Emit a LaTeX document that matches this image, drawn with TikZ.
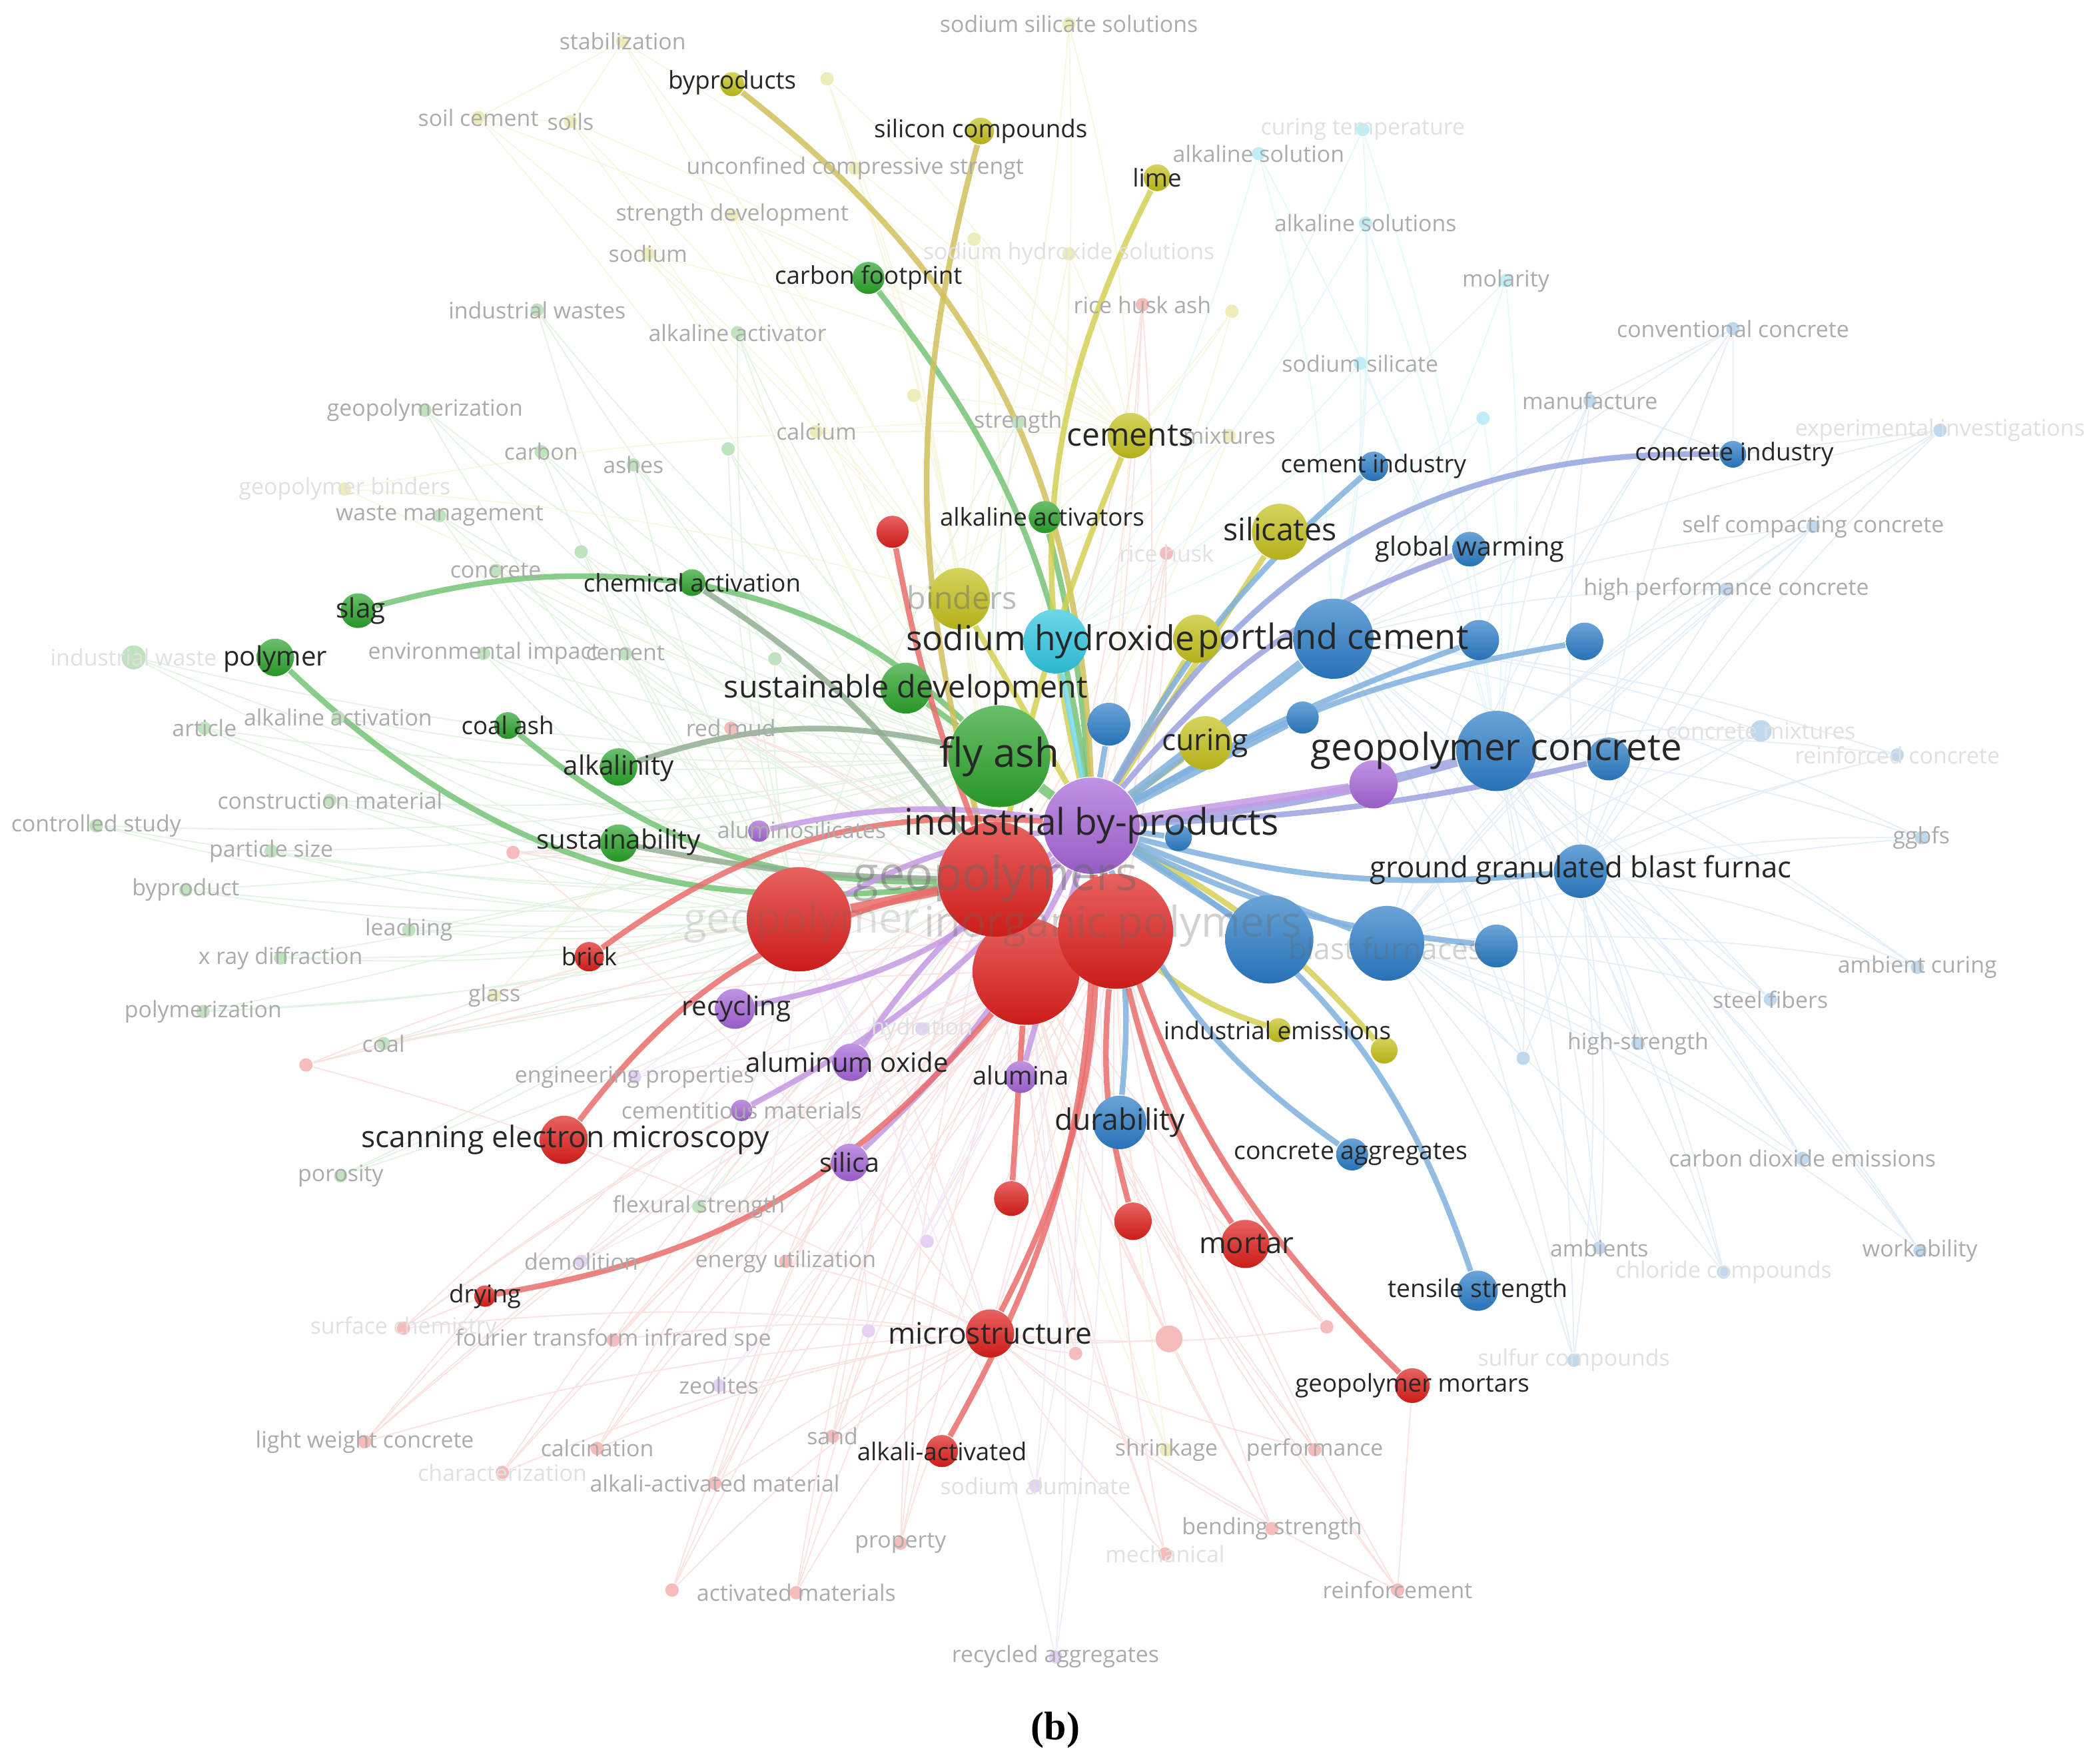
\documentclass[tikz,border=0pt]{standalone}
\usepackage{fontspec}
\setmainfont{Open Sans}
\newfontfamily\capfont{Liberation Serif}
\usetikzlibrary{backgrounds}
\newcommand\kwfs[1]{\fontsize{#1}{#1}\selectfont}
\definecolor{kwred}{HTML}{DD1F1B}
\definecolor{kwgreen}{HTML}{2AA32A}
\definecolor{kwblue}{HTML}{2A7CC6}
\definecolor{kwyellow}{HTML}{C3C01A}
\definecolor{kwpurple}{HTML}{A464D6}
\definecolor{kwcyan}{HTML}{2FC6E0}
\colorlet{kwtan}{kwyellow!65!brown!75!white}

\begin{document}
\begin{tikzpicture}[
        x=0.01cm, y=-0.01cm,
        kw/.style={circle, inner sep=0pt, top color=#1!70!white, bottom color=#1!92!black},
        rad/.style={minimum size=#1*0.02cm},
        fdot/.style={circle, inner sep=0pt, minimum size=0.1cm, fill=#1!30!white},
        lbl/.style={text=black!85, inner sep=0pt, font=\kwfs{#1}},
        lbl/.default=5.2,
        faint/.style={text=black!33, inner sep=0pt, font=\kwfs{4.8}},
        fainter/.style={text=black!12, inner sep=0pt, font=\kwfs{4.8}},
        ghost/.style={text=black!60, text opacity=#1, inner sep=0pt},
        link/.style={line width=1.2pt, draw=#1, opacity=0.85},
        web/.style={line width=0.25pt, draw=#1!13!white}
    ]
    \useasboundingbox (0,0) rectangle (1568,1320);

    % faint keywords
    \node[fdot=kwyellow, label={[faint]center:stabilization}] (stabil) at (466,31) {};
    \node[fdot=kwyellow, label={[faint]center:sodium silicate solutions}] (sss) at (800,18) {};
    \node[fdot=kwyellow] (fy1) at (619,59) {};
    \node[fdot=kwyellow, label={[faint]center:soil cement}] (soilcem) at (358,88) {};
    \node[fdot=kwyellow, label={[faint]center:soils}] (soils) at (427,91) {};
    \node[fdot=kwyellow, label={[faint]center:unconfined compressive strengt}] (ucs) at (640,126) {};
    \node[fdot=kwyellow, label={[faint]center:strength development}] (strdev) at (548,161) {};
    \node[fdot=kwyellow, label={[faint]center:sodium}] (sodium) at (485,190) {};
    \node[fdot=kwyellow, label={[fainter]center:sodium hydroxide solutions}] (shs) at (800,190) {};
    \node[fdot=kwyellow] (fy2) at (729,179) {};
    \node[fdot=kwyellow] (fy3) at (922,233) {};
    \node[fdot=kwyellow] (fy4) at (684,296) {};
    \node[fdot=kwyellow, label={[faint]center:calcium}] (calcium) at (611,323) {};
    \node[fdot=kwyellow, label={[faint]center:mixtures}] (mixtures) at (920,326) {};
    \node[fdot=kwyellow, label={[fainter]center:geopolymer binders}] (gpbind) at (258,366) {};
    \node[fdot=kwyellow, label={[faint]center:glass}] (glass) at (370,745) {};
    \node[fdot=kwyellow, label={[faint]center:shrinkage}] (shrink) at (873,1085) {};

    \node[fdot=kwgreen, label={[faint]center:industrial wastes}] (indwastes) at (402,232) {};
    \node[fdot=kwgreen, label={[faint]center:alkaline activator}] (alkactor) at (552,249) {};
    \node[fdot=kwgreen, label={[faint]center:geopolymerization}] (gpz) at (318,307) {};
    \node[fdot=kwgreen, label={[faint]center:carbon}] (carbon) at (405,338) {};
    \node[fdot=kwgreen, label={[faint]center:ashes}] (ashes) at (474,348) {};
    \node[fdot=kwgreen] (fg1) at (545,336) {};
    \node[fdot=kwgreen, label={[faint]center:strength}] (strength) at (762,316) {};
    \node[fdot=kwgreen, label={[faint]center:waste management}] (wasteman) at (329,386) {};
    \node[fdot=kwgreen, label={[faint]center:concrete}] (concrete) at (371,427) {};
    \node[fdot=kwgreen] (fg2) at (435,413) {};
    \node[fdot=kwgreen, rad=9, label={[fainter]center:industrial waste}] (indwaste) at (100,492) {};
    \node[fdot=kwgreen, label={[faint]center:environmental impact}] (envimp) at (362,489) {};
    \node[fdot=kwgreen, label={[faint]center:cement}] (cement) at (468,489) {};
    \node[fdot=kwgreen] (fg3) at (580,493) {};
    \node[fdot=kwgreen, label={[faint]center:article}] (article) at (153,545) {};
    \node[fdot=kwgreen, label={[faint]center:alkaline activation}] (alkactn) at (253,537) {};
    \node[fdot=kwgreen, label={[faint]center:construction material}] (conmat) at (247,599) {};
    \node[fdot=kwgreen, label={[faint]center:controlled study}] (ctrl) at (72,618) {};
    \node[fdot=kwgreen, label={[faint]center:particle size}] (psize) at (203,637) {};
    \node[fdot=kwgreen, label={[faint]center:byproduct}] (byproduct) at (139,666) {};
    \node[fdot=kwgreen, label={[faint]center:leaching}] (leach) at (306,696) {};
    \node[fdot=kwgreen, label={[faint]center:x ray diffraction}] (xrd) at (210,717) {};
    \node[fdot=kwgreen, label={[faint]center:polymerization}] (polymz) at (152,757) {};
    \node[fdot=kwgreen, label={[faint]center:coal}] (coal) at (287,781) {};
    \node[fdot=kwgreen, label={[faint]center:porosity}] (porosity) at (255,880) {};
    \node[fdot=kwgreen, label={[faint]center:flexural strength}] (flex) at (523,903) {};

    \node[fdot=kwcyan, label={[faint]center:alkaline solution}] (alksol) at (942,115) {};
    \node[fdot=kwcyan, label={[fainter]center:curing temperature}] (temp) at (1020,97) {};
    \node[fdot=kwcyan, label={[faint]center:alkaline solutions}] (alksols) at (1022,167) {};
    \node[fdot=kwcyan, label={[faint]center:molarity}] (molar) at (1127,210) {};
    \node[fdot=kwcyan, label={[faint]center:sodium silicate}] (sodsil) at (1018,272) {};
    \node[fdot=kwcyan] (fc1) at (1110,313) {};

    \node[fdot=kwblue, label={[faint]center:conventional concrete}] (convc) at (1297,246) {};
    \node[fdot=kwblue, label={[faint]center:manufacture}] (manuf) at (1190,300) {};
    \node[fdot=kwblue, label={[fainter]center:experimental investigations}] (expinv) at (1452,322) {};
    \node[fdot=kwblue, label={[faint]center:self compacting concrete}] (scc) at (1357,394) {};
    \node[fdot=kwblue, label={[faint]center:high performance concrete}] (hpc) at (1292,441) {};
    \node[fdot=kwblue, rad=8, label={[fainter]center:concrete mixtures}] (concmix) at (1318,547) {};
    \node[fdot=kwblue, label={[fainter]center:reinforced concrete}] (reinfc) at (1420,565) {};
    \node[fdot=kwblue, label={[faint]center:ggbfs}] (ggbfs) at (1438,627) {};
    \node[fdot=kwblue, label={[faint]center:ambient curing}] (ambcur) at (1435,724) {};
    \node[fdot=kwblue, label={[faint]center:steel fibers}] (steel) at (1325,748) {};
    \node[fdot=kwblue, label={[faint]center:high-strength}] (hs) at (1226,781) {};
    \node[fdot=kwblue] (fb1) at (1140,792) {};
    \node[fdot=kwblue, label={[faint]center:carbon dioxide emissions}] (co2) at (1349,867) {};
    \node[fdot=kwblue, label={[faint]center:ambients}] (ambients) at (1197,934) {};
    \node[fdot=kwblue, label={[faint]center:workability}] (work) at (1437,936) {};
    \node[fdot=kwblue, label={[fainter]center:chloride compounds}] (chlor) at (1290,952) {};
    \node[fdot=kwblue, label={[fainter]center:sulfur compounds}] (sulf) at (1178,1018) {};

    \node[fdot=kwred, label={[faint]center:rice husk ash}] (rha) at (855,228) {};
    \node[fdot=kwred, label={[fainter]center:rice husk}] (rh) at (873,414) {};
    \node[fdot=kwred] (fr1) at (384,638) {};
    \node[fdot=kwred, label={[faint]center:red mud}] (redmud) at (547,545) {};
    \node[fdot=kwred] (fr2) at (229,797) {};
    \node[fdot=kwred, label={[fainter]center:surface chemistry}] (surfch) at (302,994) {};
    \node[fdot=kwred, label={[faint]center:fourier transform infrared spe}] (ftir) at (459,1003) {};
    \node[fdot=kwred, label={[faint]center:energy utilization}] (energy) at (588,944) {};
    \node[fdot=kwred, label={[faint]center:light weight concrete}] (lwc) at (273,1079) {};
    \node[fdot=kwred, label={[fainter]center:characterization}] (charac) at (376,1102) {};
    \node[fdot=kwred, label={[faint]center:calcination}] (calc) at (447,1084) {};
    \node[fdot=kwred, label={[faint]center:alkali-activated material}] (aam) at (535,1110) {};
    \node[fdot=kwred, label={[faint]center:sand}] (sand) at (623,1075) {};
    \node[fdot=kwred] (fr3) at (503,1190) {};
    \node[fdot=kwred, label={[faint]center:activated materials}] (actmat) at (596,1192) {};
    \node[fdot=kwred, label={[faint]center:property}] (property) at (674,1155) {};
    \node[fdot=kwred, label={[faint]center:performance}] (perf) at (984,1085) {};
    \node[fdot=kwred, label={[faint]center:bending strength}] (bend) at (952,1144) {};
    \node[fdot=kwred, label={[fainter]center:mechanical}] (mech) at (872,1163) {};
    \node[fdot=kwred, label={[faint]center:reinforcement}] (reinf) at (1046,1190) {};
    \node[fdot=kwred] (fr4) at (805,1013) {};
    \node[fdot=kwred, rad=10] (fr5) at (875,1002) {};
    \node[fdot=kwred] (fr6) at (993,993) {};

    \node[fdot=kwpurple, label={[faint]center:engineering properties}] (engprop) at (475,806) {};
    \node[fdot=kwpurple, label={[faint]center:demolition}] (demol) at (435,944) {};
    \node[fdot=kwpurple, label={[faint]center:zeolites}] (zeol) at (538,1037) {};
    \node[fdot=kwpurple, label={[fainter]center:hydration}] (hydr) at (690,770) {};
    \node[fdot=kwpurple] (fp1) at (694,929) {};
    \node[fdot=kwpurple] (fp2) at (650,996) {};
    \node[fdot=kwpurple, label={[fainter]center:sodium aluminate}] (sodal) at (775,1112) {};
    \node[fdot=kwpurple, label={[faint]center:recycled aggregates}] (recagg) at (790,1240) {};

    % green cluster
    \node[kw=kwgreen, rad=19] (susdev) at (678,515) {};
    \node[kw=kwgreen, rad=10] (chemact) at (518,436) {};
    \node[kw=kwgreen, rad=13] (slag) at (268,457) {};
    \node[kw=kwgreen, rad=14] (polymer) at (206,492) {};
    \node[kw=kwgreen, rad=10] (coalash) at (380,543) {};
    \node[kw=kwgreen, rad=14] (alkalinity) at (463,574) {};
    \node[kw=kwgreen, rad=14] (sustain) at (463,631) {};
    \node[kw=kwgreen, rad=12] (carbonfp) at (650,208) {};
    \node[kw=kwgreen, rad=12] (alkacts) at (782,387) {};

    % yellow cluster
    \node[kw=kwyellow, rad=9] (byprod) at (548,63) {};
    \node[kw=kwyellow, rad=10] (silicon) at (734,98) {};
    \node[kw=kwyellow, rad=10] (lime) at (866,133) {};
    \node[kw=kwyellow, rad=17] (cements) at (846,326) {};
    \node[kw=kwyellow, rad=21] (silicates) at (958,398) {};
    \node[kw=kwyellow, rad=23] (binders) at (718,448) {};
    \node[kw=kwyellow, rad=18] (yel1) at (896,478) {};
    \node[kw=kwyellow, rad=20] (curing) at (902,556) {};
    \node[kw=kwyellow, rad=9] (indem) at (957,771) {};
    \node[kw=kwyellow, rad=10] (yel2) at (1036,786) {};
    \node[kw=kwcyan, rad=24] (sodhyd) at (790,480) {};

    % blue cluster
    \node[kw=kwblue, rad=11] (cemind) at (1028,349) {};
    \node[kw=kwblue, rad=10] (concind) at (1297,340) {};
    \node[kw=kwblue, rad=13] (globalw) at (1100,411) {};
    \node[kw=kwblue, rad=30] (portland) at (998,478) {};
    \node[kw=kwblue, rad=15] (b1) at (1107,479) {};
    \node[kw=kwblue, rad=14] (b2) at (1186,480) {};
    \node[kw=kwblue, rad=12] (b3) at (975,537) {};
    \node[kw=kwblue, rad=16] (b4) at (830,542) {};
    \node[kw=kwblue, rad=30] (gpc) at (1120,562) {};
    \node[kw=kwblue, rad=16] (b5) at (1204,568) {};
    \node[kw=kwblue, rad=20] (ggbf) at (1183,652) {};
    \node[kw=kwblue, rad=33] (furn1) at (950,703) {};
    \node[kw=kwblue, rad=28] (furn2) at (1038,706) {};
    \node[kw=kwblue, rad=16] (b6) at (1120,708) {};
    \node[kw=kwblue, rad=20] (durab) at (838,840) {};
    \node[kw=kwblue, rad=12] (concagg) at (1012,864) {};
    \node[kw=kwblue, rad=15] (tensile) at (1106,966) {};

    % red cluster
    \node[kw=kwred, rad=39] (gpoly) at (598,688) {};
    \node[kw=kwred, rad=40] (red1) at (768,727) {};
    \node[kw=kwred, rad=43] (geopolymers) at (745,658) {};
    \node[kw=kwred, rad=43] (inorg) at (835,697) {};
    \node[kw=kwred, rad=12] (red2) at (668,398) {};
    \node[kw=kwred, rad=11] (brick) at (441,716) {};
    \node[kw=kwred, rad=18] (sem) at (422,853) {};
    \node[kw=kwred, rad=8] (drying) at (363,970) {};
    \node[kw=kwred, rad=13] (red3) at (757,897) {};
    \node[kw=kwred, rad=14] (red4) at (848,914) {};
    \node[kw=kwred, rad=18] (mortar) at (932,931) {};
    \node[kw=kwred, rad=18] (micro) at (741,998) {};
    \node[kw=kwred, rad=12] (alkact) at (705,1086) {};
    \node[kw=kwred, rad=13] (gpmort) at (1057,1037) {};

    % purple cluster and the two hubs
    \node[kw=kwgreen, rad=38] (flyash) at (748,566) {};
    \node[kw=kwpurple, rad=36] (ibp) at (817,618) {};
    \node[kw=kwblue, rad=10] (b7) at (882,627) {};
    \node[kw=kwpurple, rad=18] (pur1) at (1028,587) {};
    \node[kw=kwpurple, rad=8] (alumsil) at (568,622) {};
    \node[kw=kwpurple, rad=15] (recyc) at (550,755) {};
    \node[kw=kwpurple, rad=14] (aloxide) at (637,795) {};
    \node[kw=kwpurple, rad=12] (alumina) at (764,806) {};
    \node[kw=kwpurple, rad=8] (cemmat) at (555,831) {};
    \node[kw=kwpurple, rad=14] (silica) at (636,870) {};

    % labels
    \node[ghost=0.2, font=\kwfs{9}] (gpoly-t) at (600,690) {geopolymer};
    \node[ghost=0.45, font=\kwfs{10}] (geopolymers-t) at (745,657) {geopolymers};
    \node[ghost=0.3, font=\kwfs{9}] (inorg-t) at (833,693) {inorganic polymers};
    \node[ghost=0.3, font=\kwfs{6.3}] (furn2-t) at (1037,710) {blast furnaces};
    \node[ghost=0.45, font=\kwfs{6.6}] (binders-t) at (720,447) {binders};
    \node[faint] (alumsil-t) at (600,621) {aluminosilicates};
    \node[faint] (cemmat-t) at (555,831) {cementitious materials};
    \node[lbl=8.5] (flyash-t) at (748,566) {fly ash};
    \node[lbl=7.8] (ibp-t) at (817,618) {industrial by-products};
    \node[lbl=6.6] (susdev-t) at (678,516) {sustainable development};
    \node[lbl] (chemact-t) at (518,436) {chemical activation};
    \node[lbl=5.7] (slag-t) at (270,457) {slag};
    \node[lbl=5.7] (polymer-t) at (206,493) {polymer};
    \node[lbl] (coalash-t) at (380,543) {coal ash};
    \node[lbl=5.7] (alkalinity-t) at (463,575) {alkalinity};
    \node[lbl=5.7] (sustain-t) at (463,630) {sustainability};
    \node[lbl] (carbonfp-t) at (650,208) {carbon footprint};
    \node[lbl] (alkacts-t) at (780,387) {alkaline activators};
    \node[lbl] (byprod-t) at (548,62) {byproducts};
    \node[lbl] (silicon-t) at (734,98) {silicon compounds};
    \node[lbl] (lime-t) at (866,133) {lime};
    \node[lbl=6.8] (cements-t) at (846,326) {cements};
    \node[lbl=6.6] (silicates-t) at (958,396) {silicates};
    \node[lbl=6.3] (curing-t) at (902,556) {curing};
    \node[lbl] (indem-t) at (956,771) {industrial emissions};
    \node[lbl=7.3] (sodhyd-t) at (786,480) {sodium hydroxide};
    \node[lbl=7.4] (portland-t) at (998,479) {portland cement};
    \node[lbl=8] (gpc-t) at (1120,562) {geopolymer concrete};
    \node[lbl] (cemind-t) at (1028,349) {cement industry};
    \node[lbl] (concind-t) at (1298,340) {concrete industry};
    \node[lbl=5.6] (globalw-t) at (1100,411) {global warming};
    \node[lbl=6.2] (ggbf-t) at (1183,651) {ground granulated blast furnac};
    \node[lbl=6.3] (durab-t) at (838,840) {durability};
    \node[lbl=5.3] (concagg-t) at (1011,864) {concrete aggregates};
    \node[lbl=5.3] (tensile-t) at (1106,966) {tensile strength};
    \node[lbl=5.7] (recyc-t) at (551,755) {recycling};
    \node[lbl=5.7] (aloxide-t) at (634,795) {aluminum oxide};
    \node[lbl=5.4] (alumina-t) at (764,805) {alumina};
    \node[lbl=5.6] (silica-t) at (636,870) {silica};
    \node[lbl] (brick-t) at (441,716) {brick};
    \node[lbl=6.3] (sem-t) at (423,853) {scanning electron microscopy};
    \node[lbl] (drying-t) at (363,970) {drying};
    \node[lbl=6.2] (mortar-t) at (933,931) {mortar};
    \node[lbl=6.3] (micro-t) at (741,998) {microstructure};
    \node[lbl] (alkact-t) at (705,1086) {alkali-activated};
    \node[lbl] (gpmort-t) at (1057,1037) {geopolymer mortars};

    \node[font=\capfont\bfseries\kwfs{8.5}, inner sep=0pt] (caption) at (790,1295) {(b)};

    \begin{pgfonlayer}{background}
        % faint web
        \foreach \a in {stabil,sss,fy1,soilcem,soils,ucs,strdev,sodium,shs,fy2,fy3,fy4,calcium,mixtures,gpbind,glass,shrink}
            \foreach \b in {binders,geopolymers,cements}
                \draw[web=kwyellow] (\a) to[bend left=6] (\b);
        \foreach \a in {indwastes,alkactor,gpz,carbon,ashes,fg1,strength,wasteman,concrete,fg2,indwaste,envimp,cement,fg3,article,alkactn,conmat,ctrl,psize,byproduct,leach,xrd,polymz,coal,porosity,flex}
            \foreach \b in {flyash,gpoly,geopolymers}
                \draw[web=kwgreen] (\a) to[bend right=6] (\b);
        \foreach \a in {alksol,temp,alksols,molar,sodsil,fc1}
            \foreach \b in {sodhyd,portland,gpc}
                \draw[web=kwcyan] (\a) to[bend left=6] (\b);
        \foreach \a in {convc,manuf,expinv,scc,hpc,concmix,reinfc,ggbfs,ambcur,steel,hs,fb1,co2,ambients,work,chlor,sulf}
            \foreach \b in {gpc,portland,ggbf,furn2}
                \draw[web=kwblue] (\a) to[bend right=6] (\b);
        \foreach \a in {rha,rh,fr1,redmud,fr2,surfch,ftir,energy,lwc,charac,calc,aam,sand,fr3,actmat,property,perf,bend,mech,reinf,fr4,fr5,fr6}
            \foreach \b in {geopolymers,red1,inorg,micro}
                \draw[web=kwred] (\a) to[bend left=6] (\b);
        \foreach \a in {engprop,demol,zeol,hydr,fp1,fp2,sodal,recagg}
            \foreach \b in {ibp,gpoly,red1}
                \draw[web=kwpurple] (\a) to[bend right=6] (\b);
        \draw[web=kwyellow] (stabil) -- (soilcem) -- (soils) -- (stabil);
        \draw[web=kwred] (lwc) -- (drying) -- (surfch);
        \draw[web=kwred] (gpmort) -- (reinf);
        \draw[web=kwblue] (concind) -- (convc) -- (manuf) -- (concind) -- (expinv);

        % green links
        \draw[link=kwgreen!65!white] (carbonfp) to[bend left=15] (ibp);
        \draw[link=kwgreen!65!white] (alkacts) to[bend left=5] (ibp);
        \draw[link=kwgreen!65!white] (slag) to[bend left=10] (chemact);
        \draw[link=kwgreen!65!white] (chemact) to[bend left=15] (flyash);
        \draw[link=kwgreen!35!gray!70!white] (chemact) to[bend left=10] (geopolymers);
        \draw[link=kwgreen!65!white] (polymer) to[bend right=25] (geopolymers);
        \draw[link=kwgreen!65!white] (coalash) to[bend right=20] (geopolymers);
        \draw[link=kwgreen!35!gray!70!white] (alkalinity) to[bend left=15] (flyash);
        \draw[link=kwgreen!35!gray!70!white] (sustain) to[bend right=5] (geopolymers);
        \draw[link=kwgreen!65!white] (susdev) -- (flyash);
        \draw[link=kwgreen!65!white, line width=2pt] (flyash) -- (ibp);

        % yellow links
        \draw[link=kwtan] (byprod) to[bend left=25] (ibp);
        \draw[link=kwtan] (silicon) to[bend right=15] (geopolymers);
        \draw[link=kwyellow!75!white] (lime) to[bend right=20] (ibp);
        \draw[link=kwyellow!75!white] (cements) to[bend right=5] (geopolymers);
        \draw[link=kwyellow!75!white] (silicates) -- (ibp);
        \draw[link=kwyellow!75!white] (binders) -- (ibp);
        \draw[link=kwyellow!75!white] (yel1) -- (ibp);
        \draw[link=kwyellow!75!white] (curing) -- (ibp);
        \draw[link=kwyellow!75!white] (indem) to[bend left=10] (inorg);
        \draw[link=kwyellow!75!white] (yel2) to[bend right=10] (ibp);
        \draw[link=kwcyan!65!white] (sodhyd) -- (ibp);

        % blue links
        \draw[link=kwblue!60!white] (cemind) to[bend right=10] (ibp);
        \draw[link=kwblue!60!kwpurple!65!white] (concind) to[bend right=30] (ibp);
        \draw[link=kwblue!50!kwpurple!65!white] (globalw) to[bend right=15] (ibp);
        \draw[link=kwblue!60!white, line width=2pt] (portland) -- (ibp);
        \draw[link=kwblue!60!white] (b1) to[bend right=5] (ibp);
        \draw[link=kwblue!60!white] (b2) to[bend right=10] (ibp);
        \draw[link=kwblue!60!white] (b3) -- (ibp);
        \draw[link=kwblue!60!white] (b4) -- (ibp);
        \draw[link=kwblue!50!kwpurple!65!white] (b5) to[bend left=5] (ibp);
        \draw[link=kwblue!50!kwpurple!65!white, line width=2pt] (gpc) to[bend left=5] (ibp);
        \draw[link=kwblue!60!white] (ggbf) to[bend left=10] (ibp);
        \draw[link=kwblue!60!white] (furn1) -- (ibp);
        \draw[link=kwblue!60!white] (furn2) -- (ibp);
        \draw[link=kwblue!60!white] (b6) to[bend left=10] (ibp);
        \draw[link=kwblue!60!white] (b7) -- (ibp);
        \draw[link=kwblue!60!white] (durab) to[bend right=10] (ibp);
        \draw[link=kwblue!60!white] (concagg) to[bend left=15] (ibp);
        \draw[link=kwblue!60!white] (tensile) to[bend right=20] (ibp);

        % purple links
        \draw[link=kwpurple!65!white, line width=2pt] (pur1) -- (ibp);
        \draw[link=kwpurple!65!white] (alumsil) to[bend left=10] (ibp);
        \draw[link=kwpurple!65!white] (recyc) to[bend right=15] (ibp);
        \draw[link=kwpurple!65!white] (aloxide) to[bend left=10] (ibp);
        \draw[link=kwpurple!65!white] (alumina) -- (ibp);
        \draw[link=kwpurple!65!white] (cemmat) to[bend right=10] (ibp);
        \draw[link=kwpurple!65!white] (silica) to[bend right=10] (ibp);
        \draw[link=kwpurple!65!white] (gpoly) to[bend left=10] (ibp);

        % red links
        \draw[link=kwred!65!white] (red2) to[bend right=5] (geopolymers);
        \draw[link=kwred!65!white] (brick) to[bend left=20] (ibp);
        \draw[link=kwred!65!white] (sem) to[bend left=20] (geopolymers);
        \draw[link=kwred!65!white] (drying) to[bend right=20] (red1);
        \draw[link=kwred!65!white] (red3) -- (red1);
        \draw[link=kwred!65!white] (micro) to[bend right=15] (ibp);
        \draw[link=kwred!65!white] (alkact) to[bend right=15] (ibp);
        \draw[link=kwred!65!white] (red4) to[bend left=10] (inorg);
        \draw[link=kwred!65!white] (mortar) to[bend left=10] (inorg);
        \draw[link=kwred!65!white] (gpmort) to[bend left=15] (ibp);
        \draw[link=kwred!65!white, line width=2pt] (gpoly) -- (geopolymers);
    \end{pgfonlayer}
\end{tikzpicture}
\end{document}
